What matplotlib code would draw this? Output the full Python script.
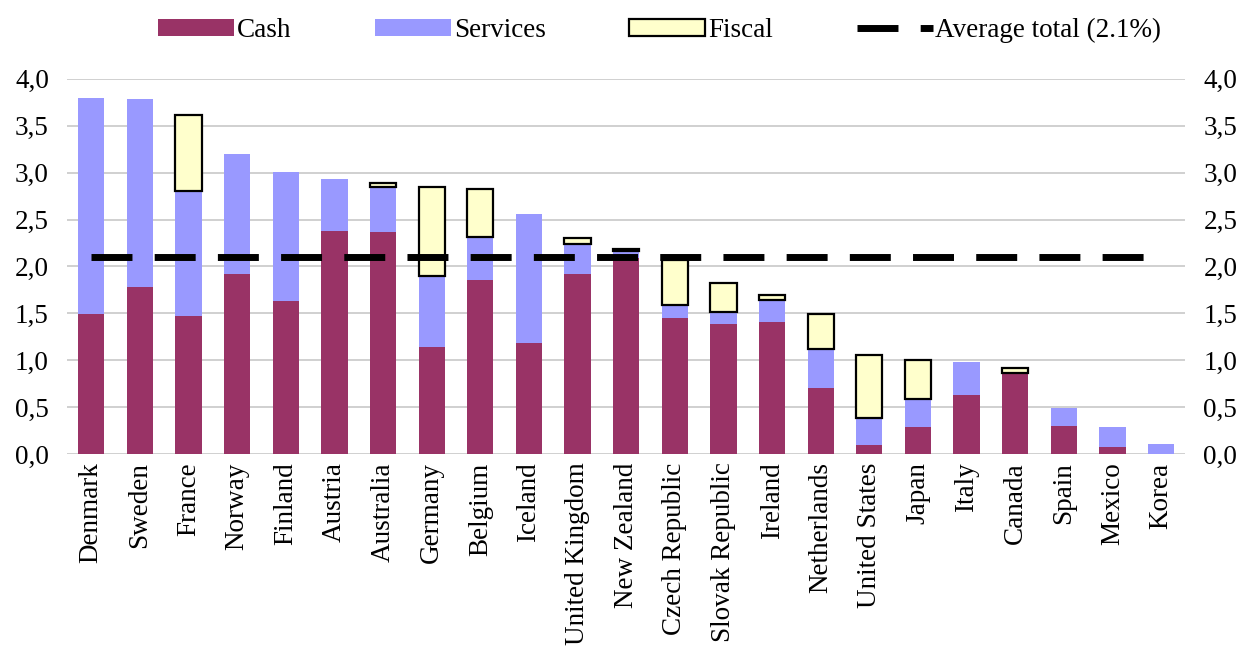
import numpy as np
import matplotlib.pyplot as plt
from matplotlib.ticker import FuncFormatter

countries = ['Denmark', 'Sweden', 'France', 'Norway', 'Finland', 'Austria', 'Australia',
             'Germany', 'Belgium', 'Iceland', 'United Kingdom', 'New Zealand', 'Czech Republic',
             'Slovak Republic', 'Ireland', 'Netherlands', 'United States', 'Japan', 'Italy',
             'Canada', 'Spain', 'Mexico', 'Korea']
cash = [1.49, 1.78, 1.47, 1.92, 1.63, 2.38, 2.37, 1.14, 1.86, 1.18, 1.92, 2.09, 1.45,
        1.39, 1.41, 0.71, 0.10, 0.29, 0.63, 0.87, 0.30, 0.08, 0.00]
services = [2.31, 2.00, 1.33, 1.28, 1.38, 0.55, 0.48, 0.76, 0.45, 1.38, 0.32, 0.07, 0.14,
            0.12, 0.23, 0.41, 0.29, 0.30, 0.35, 0.00, 0.19, 0.21, 0.11]
fiscal = [0.00, 0.00, 0.81, 0.00, 0.00, 0.00, 0.04, 0.95, 0.52, 0.00, 0.06, 0.03, 0.48,
          0.31, 0.06, 0.37, 0.67, 0.41, 0.00, 0.05, 0.00, 0.00, 0.00]
average = 2.1

plt.rcParams['font.family'] = ['Liberation Serif', 'DejaVu Serif']
FS = 19.5

fig = plt.figure(figsize=(12.4, 6.46), dpi=100)
ax = fig.add_axes([0.054, 0.297, 0.902, 0.581])

x = np.arange(len(countries))
cash = np.array(cash)
services = np.array(services)
fiscal = np.array(fiscal)
w = 0.54

ax.bar(x, cash, w, color='#993366', label='Cash', zorder=2)
ax.bar(x, services, w, bottom=cash, color='#9999FF', label='Services', zorder=2)
fm = fiscal > 0
ax.bar(x[fm], fiscal[fm], w, bottom=(cash + services)[fm], color='#FFFFCC',
       edgecolor='black', linewidth=1.6, label='Fiscal', zorder=3)
ax.plot(x[[0, -1]] + np.array([0.0, -0.1]), [average, average], color='black', lw=5,
        dashes=(5.9, 3.2), label='Average total (2.1%)', zorder=4,
        dash_capstyle='butt')

ax.set_xlim(-0.5, len(countries) - 0.5)
ax.set_ylim(0, 4)
ax.set_yticks(np.arange(0, 4.01, 0.5))
fmt = FuncFormatter(lambda v, p: ('%.1f' % v).replace('.', ','))
ax.yaxis.set_major_formatter(fmt)
ax.yaxis.grid(True, color='#c8c8c8', lw=1.2, zorder=0)
ax.set_axisbelow(True)
for s in ax.spines.values():
    s.set_visible(False)
ax.tick_params(axis='y', length=0, labelsize=FS, pad=13)
ax.set_xticks(x)
ax.set_xticklabels(countries, rotation=90, fontsize=FS)
ax.tick_params(axis='x', length=0, pad=6)

ax2 = ax.twinx()
ax2.set_ylim(0, 4)
ax2.set_yticks(np.arange(0, 4.01, 0.5))
ax2.yaxis.set_major_formatter(fmt)
for s in ax2.spines.values():
    s.set_visible(False)
ax2.tick_params(axis='y', length=0, labelsize=FS, pad=13)

h, l = ax.get_legend_handles_labels()
order = [1, 2, 3, 0]
fig.legend([h[i] for i in order], [l[i] for i in order], loc='upper center',
           bbox_to_anchor=(0.532, 1.01), ncol=4, frameon=False, fontsize=FS,
           handlelength=2.8, handletextpad=0.1, columnspacing=3.1, handleheight=0.6)

fig.savefig('out.png', dpi=100)
